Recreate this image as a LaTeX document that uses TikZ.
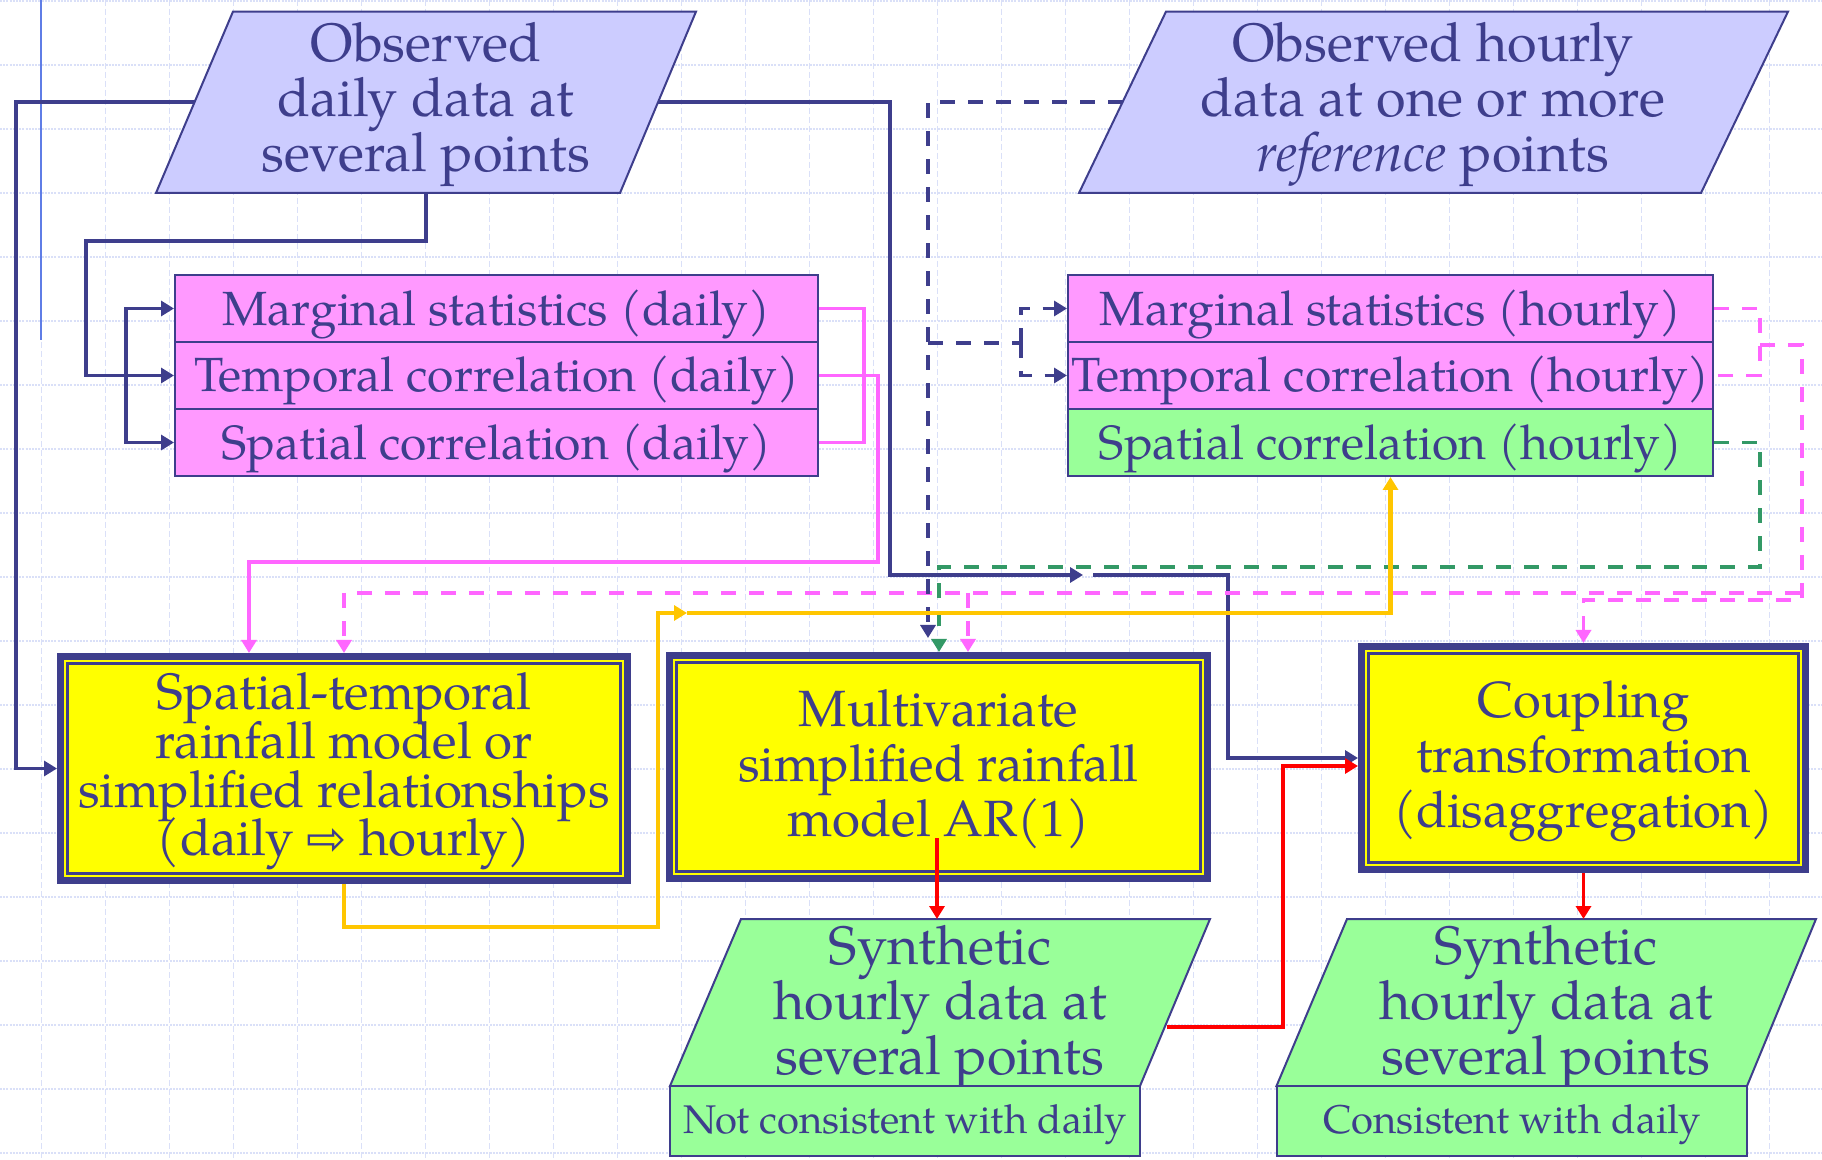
\documentclass[tikz,border=0pt]{standalone}
\usepackage{fontspec}
\usetikzlibrary{arrows.meta}
\newfontfamily\dejavu{DejaVu Sans}
\newfontfamily\palfont{TeX Gyre Pagella}
\newcommand\bigf{\palfont\fontsize{27}{27.5}\selectfont}
\newcommand\midf{\palfont\fontsize{25.5}{27.5}\selectfont}
\newcommand\cplf{\palfont\fontsize{25.3}{27.5}\selectfont}
\newcommand\rowf{\palfont\fontsize{24}{25}\selectfont}
\newcommand\yonef{\palfont\fontsize{25.5}{24.4}\selectfont\lineskiplimit=-30pt\lineskip=0pt\relax}
\newcommand\smallf{\palfont\fontsize{20}{22}\selectfont}
\definecolor{navy}{RGB}{62,62,140}
\definecolor{lav}{RGB}{204,204,255}
\definecolor{pinkf}{RGB}{255,153,255}
\definecolor{pinkl}{RGB}{255,102,255}
\definecolor{greenf}{RGB}{153,255,153}
\definecolor{greenl}{RGB}{51,153,102}
\definecolor{yel}{RGB}{255,255,0}
\definecolor{yell}{RGB}{255,198,0}
\definecolor{gridc}{RGB}{218,224,248}
\definecolor{tplblue}{RGB}{95,125,230}
\begin{document}
\begin{tikzpicture}[x=0.5pt,y=-0.5pt,
  lw/.style={line width=1.8pt},
  lwd/.style={line width=1.7pt},
  lwy/.style={line width=2.2pt},
  tip/.style={-{Triangle[length=6.5pt,width=7.5pt]}},
  dsh/.style={dash pattern=on 7.5pt off 6.5pt},
  para/.style={fill=#1, draw=navy, line width=1pt, line join=miter},
  txt/.style={text=navy, align=center, inner sep=0pt},
  row/.style={draw=navy, line width=1pt, outer sep=0.5pt, inner sep=0pt, minimum height=33.5pt},
  rowtxt/.style={text=navy, inner sep=0pt, font=\rowf},
  ybox/.style={fill=yel, draw=navy, line width=3.65pt, outer sep=1.825pt, inner sep=0pt},
  ynner/.style={draw=navy, line width=1.2pt},
  gbox/.style={fill=greenf, draw=navy, line width=1pt, outer sep=0.5pt, inner sep=0pt, minimum height=35pt}]
\fill[white] (0,0) rectangle (1822,1160);
\useasboundingbox (0,0) rectangle (1822,1160);
% background grid
\foreach \k in {0,...,27} \draw[gridc, line width=0.6pt, dash pattern=on 3pt off 1.5pt] ({41.3+64*\k},0) -- ({41.3+64*\k},1160);
\foreach \k in {0,...,18} \draw[gridc, line width=0.8pt, dash pattern=on 1pt off 0.6pt] (0,{1+64*\k}) -- (1822,{1+64*\k});
\draw[tplblue, line width=1pt] (41.3,0) -- (41.3,340);

% top parallelograms
\draw[para=lav] (233,11.6) -- (696,11.6) -- (620,193) -- (156,193) -- cycle;
\node[txt, font=\bigf] (P1) at (426,104.5) {Observed\\daily data at\\several points};
\coordinate (P1w) at (194.5,102);
\coordinate (P1e) at (658,102);
\coordinate (P1s) at (426,193);
\draw[para=lav] (1166,11.6) -- (1788,11.6) -- (1701,193) -- (1079,193) -- cycle;
\node[txt, font=\bigf] (P2) at (1433,104.5) {Observed hourly\\data at one or more\\{\itshape reference} points};
\coordinate (P2w) at (1122.5,102);

% statistics rows
\node[row, fill=pinkf, minimum width=321.5pt] (L1) at (496.5,308.5) {};
\node[row, fill=pinkf, minimum width=321.5pt] (L2) at (496.5,375.5) {};
\node[row, fill=pinkf, minimum width=321.5pt] (L3) at (496.5,442.5) {};
\node[row, fill=pinkf, minimum width=322.5pt] (R1) at (1390.5,308.5) {};
\node[row, fill=pinkf, minimum width=322.5pt] (R2) at (1390.5,375.5) {};
\node[row, fill=greenf, minimum width=322.5pt] (R3) at (1390.5,442.5) {};
\node[rowtxt] (L1t) at ([shift={(0,6)}]L1.center) {Marginal statistics (daily)};
\node[rowtxt] (L2t) at ([shift={(0,5)}]L2.center) {Temporal correlation (daily)};
\node[rowtxt] (L3t) at ([shift={(0,5.5)}]L3.center) {Spatial correlation (daily)};
\node[rowtxt] (R1t) at ([shift={(0,6)}]R1.center) {Marginal statistics (hourly)};
\node[rowtxt] (R2t) at ([shift={(0,5)}]R2.center) {Temporal correlation (hourly)};
\node[rowtxt] (R3t) at ([shift={(0,5.5)}]R3.center) {Spatial correlation (hourly)};

% model boxes
\node[ybox, minimum width=283.35pt, minimum height=111.85pt] (Y1) at (344,768.5) {};
\node[ybox, minimum width=268.85pt, minimum height=111.35pt] (Y2) at (938.5,767) {};
\node[ybox, minimum width=221.85pt, minimum height=111.35pt] (Y3) at (1583.5,758) {};
\foreach \n in {Y1,Y2,Y3}
  \draw[ynner] ([shift={(10.6,10.6)}]\n.north west) rectangle ([shift={(-10.6,-10.6)}]\n.south east);
\node[txt, font=\yonef] (Y1t) at ([shift={(0,3)}]Y1.center)
  {Spatial-temporal\\rainfall model or\\simplified relationships\\(daily {\dejavu\fontsize{24}{24}\selectfont ⇨} hourly)};
\node[txt, font=\midf] (Y2t) at ([shift={(0,2.5)}]Y2.center) {Multivariate\\simplified rainfall\\model AR(1)};
\node[txt, font=\cplf] (Y3t) at ([shift={(0,3.5)}]Y3.center) {Coupling\\transformation\\(disaggregation)};

% output parallelograms
\draw[para=greenf] (741,919) -- (1210,919) -- (1140,1086) -- (670,1086) -- cycle;
\node[txt, font=\bigf] (G1) at (940,1007) {Synthetic\\hourly data at\\several points};
\node[gbox, minimum width=235pt] (G1b) at (905,1121) {};
\node[txt, font=\smallf] (G1bt) at ([shift={(0,3.5)}]G1b.center) {Not consistent with daily};
\coordinate (G1n) at (937,919);
\coordinate (G1e) at (1167,1027);
\draw[para=greenf] (1347,919) -- (1816,919) -- (1747,1086) -- (1276.5,1086) -- cycle;
\node[txt, font=\bigf] (G2) at (1546,1007) {Synthetic\\hourly data at\\several points};
\node[gbox, minimum width=235.25pt] (G2b) at (1511.75,1121) {};
\node[txt, font=\smallf] (G2bt) at ([shift={(0,3.5)}]G2b.center) {Consistent with daily};
\coordinate (G2n) at (1583.5,919);

% navy solid connectors
\draw[lw, navy, tip] (P1w) -- (16,102) |- (Y1.west);
\coordinate (n1) at (1083,575);
\coordinate (n2) at (1093,575);
\draw[lw, navy, tip] (P1e) -- (890,102) |- (n1);
\draw[lw, navy, tip] (n2) -| (1228,758) -- (Y3.west);
\draw[lw, navy, tip] (P1s) -- (426,241) -| (86,375.5) -- (L2.west);
\coordinate (br) at (126,375.5);
\draw[lw, navy, tip] (br) |- (L1.west);
\draw[lw, navy, tip] (br) |- (L3.west);

% pink solid
\draw[lw, pinkl] (L1.east) -- (864,308.5) |- (L3.east);
\draw[lw, pinkl, tip] (L2.east) -- (878,375.5) |- (249,562) -- (249,562 |- Y1.north);

% pink dashed
\draw[lwd, pinkl, dsh] (R1.east) -- (1760,308.5) -- (1760,375.5) -- (R2.east);
\draw[lwd, pinkl, dsh, tip] (1760,345) -- (1802,345) -- (1802,600) -| (Y3.north);
\draw[lwd, pinkl, dsh, tip] (1800,593) -| (Y1.north);
\draw[lwd, pinkl, dsh, tip] (968,593) -- (968,593 |- Y2.north);

% green dashed
\draw[lwd, greenl, dsh, tip] (R3.east) -- (1760,442.5) |- (939,567) -- (939,567 |- Y2.north);

% navy dashed
\draw[lwd, navy, dsh, tip] (P2w) -- (928,102) -- (928,638);
\coordinate (nb) at (1021,343);
\draw[lwd, navy, dsh] (928,343) -- (nb);
\draw[lwd, navy, dsh, tip] (nb) |- (R1.west);
\draw[lwd, navy, dsh, tip] (nb) |- (R2.west);

% yellow
\coordinate (ym) at (687,613);
\draw[lwy, yell, tip] (Y1.south) -- (344,927) -| (658,613) -- (ym);
\draw[lwy, yell, tip] (ym) -| (R3.south);

% red
\coordinate (r0) at (937,838);
\draw[lw, red, tip] (r0) -- (G1n);
\draw[lw, red, tip] (Y3.south) -- (G2n);
\draw[lw, red, tip] (G1e) -- (1283,1027) |- ([shift={(0,8)}]Y3.west);
\end{tikzpicture}
\end{document}
